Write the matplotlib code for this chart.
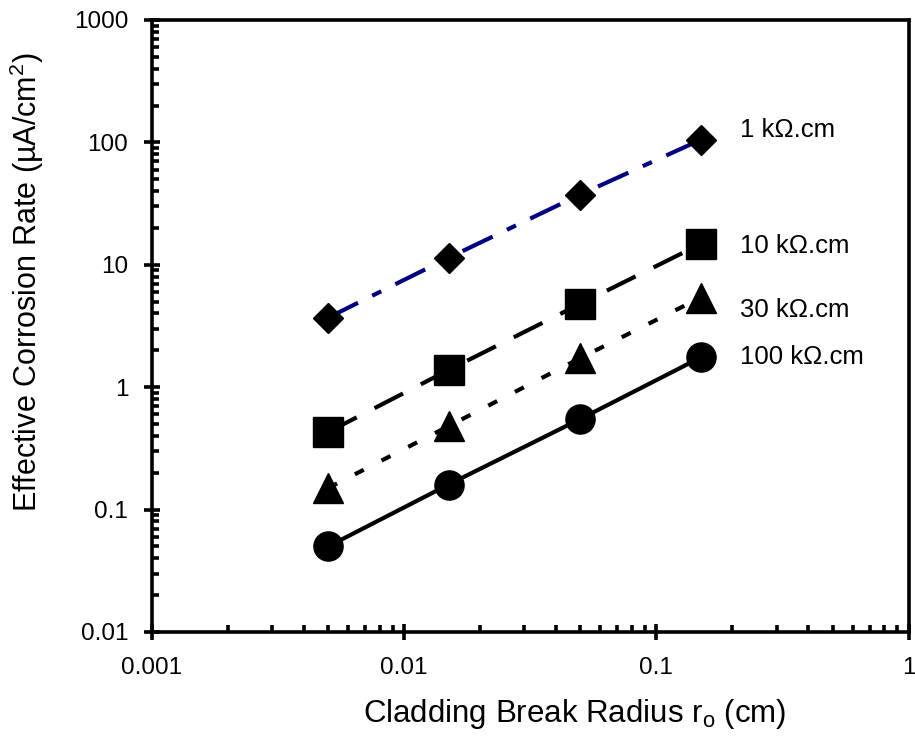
import matplotlib
matplotlib.use("Agg")
import matplotlib.pyplot as plt
from matplotlib.ticker import LogLocator, FixedLocator, FixedFormatter, NullFormatter

plt.rcParams['font.family'] = ['Liberation Sans', 'DejaVu Sans']

# break radius (cm)
radius = [0.005, 0.015, 0.05, 0.15]

# effective corrosion rate (uA/cm2) for each resistivity
rate_1k = [3.7, 11.4, 37.5, 105]
rate_10k = [0.43, 1.38, 4.8, 14.8]
rate_30k = [0.15, 0.48, 1.73, 5.4]
rate_100k = [0.050, 0.16, 0.55, 1.75]

series_labels = ["1 k\u03a9.cm", "10 k\u03a9.cm", "30 k\u03a9.cm", "100 k\u03a9.cm"]

x_ticks = [0.001, 0.01, 0.1, 1]
x_tick_labels = ["0.001", "0.01", "0.1", "1"]
y_ticks = [0.01, 0.1, 1, 10, 100, 1000]
y_tick_labels = ["0.01", "0.1", "1", "10", "100", "1000"]

fig = plt.figure(figsize=(9.15, 7.4), dpi=100)
ax = fig.add_axes([0.166, 0.146, 0.827, 0.827])

lw = 3.0
ax.plot(radius, rate_1k, color="#000080", lw=lw, dashes=(8, 3.8, 2.4, 3.8),
        marker="D", ms=15, mfc="black", mec="black")
ax.plot(radius, rate_10k, color="black", lw=lw, dashes=(7.7, 4.8),
        marker="s", ms=21, mfc="black", mec="black")
ax.plot(radius, rate_30k, color="black", lw=lw, dashes=(2.4, 4.8),
        marker="^", ms=21, mfc="black", mec="black")
ax.plot(radius, rate_100k, color="black", lw=lw, linestyle="-",
        marker="o", ms=21, mfc="black", mec="black")

# labels to the right of the last point
label_y = [126, 14.2, 4.3, 1.77]
for lab, yy in zip(series_labels, label_y):
    ax.text(0.215, yy, lab, fontsize=18.5, ha="left", va="center")

ax.set_xscale("log")
ax.set_yscale("log")
ax.set_xlim(0.001, 1)
ax.set_ylim(0.01, 1000)

ax.xaxis.set_major_locator(FixedLocator(x_ticks))
ax.xaxis.set_major_formatter(FixedFormatter(x_tick_labels))
ax.yaxis.set_major_locator(FixedLocator(y_ticks))
ax.yaxis.set_major_formatter(FixedFormatter(y_tick_labels))
ax.xaxis.set_minor_locator(LogLocator(base=10, subs=range(2, 10), numticks=20))
ax.yaxis.set_minor_locator(LogLocator(base=10, subs=range(2, 10), numticks=20))
ax.xaxis.set_minor_formatter(NullFormatter())
ax.yaxis.set_minor_formatter(NullFormatter())

ax.tick_params(which="major", direction="inout", length=12, width=2.6,
               labelsize=17.5, top=False, right=False)
ax.tick_params(axis="x", which="major", pad=12)
ax.tick_params(axis="y", which="major", pad=11)
ax.tick_params(which="minor", direction="in", length=5, width=2.6,
               top=False, right=False)

for sp in ax.spines.values():
    sp.set_linewidth(2.6)

ax.set_xlabel("Cladding Break Radius r$_\\mathregular{o}$ (cm)", fontsize=22.5)
ax.set_ylabel("Effective Corrosion Rate (\u00b5A/cm$^\\mathregular{2}$)", fontsize=22)
ax.xaxis.set_label_coords(0.559, -0.106)
ax.yaxis.set_label_coords(-0.140, 0.572)

fig.savefig("out.png", dpi=100)
